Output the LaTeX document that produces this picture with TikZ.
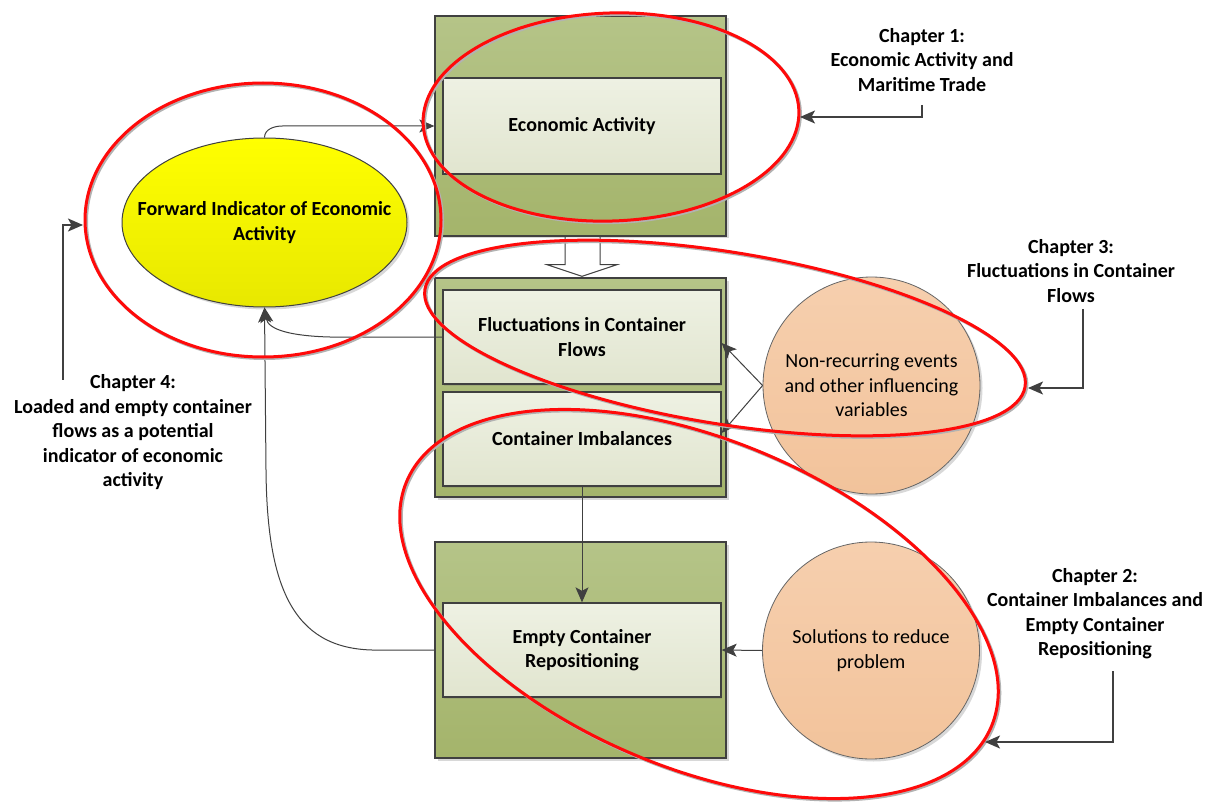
\documentclass[tikz,border=0pt]{standalone}
\usepackage{fontspec}
\setmainfont{Carlito}
\usetikzlibrary{arrows.meta,shadows,calc,shapes.geometric}

\definecolor{olivetop}{HTML}{B5C488}
\definecolor{olivebot}{HTML}{A4B46B}
\definecolor{paletop}{HTML}{EEF1E3}
\definecolor{palebot}{HTML}{E1E5CF}
\definecolor{peachtop}{HTML}{F6CFAE}
\definecolor{peachbot}{HTML}{F2C39B}
\definecolor{lemontop}{HTML}{FFFF00}
\definecolor{lemonbot}{HTML}{E8E800}
\definecolor{linegray}{HTML}{404040}
\definecolor{ringred}{HTML}{FF0A0A}

\tikzset{
  softshadow/.style={drop shadow={shadow xshift=2.5pt, shadow yshift=-2.5pt, opacity=.25, fill=black!60}},
  stage/.style={draw=linegray, line width=1.3pt, top color=olivetop, bottom color=olivebot,
    minimum width=291pt, inner sep=0pt, softshadow},
  panel/.style={draw=linegray, line width=1.3pt, top color=paletop, bottom color=palebot,
    minimum width=278pt, minimum height=94pt, inner sep=0pt, align=center,
    font=\fontsize{20}{24.5}\selectfont\bfseries,
    drop shadow={shadow xshift=1pt, shadow yshift=-1.5pt, opacity=.2, fill=black!60}},
  bubble/.style={circle, draw=linegray!80, line width=0.8pt, top color=peachtop, bottom color=peachbot,
    minimum size=217pt, inner sep=0pt, align=center, font=\fontsize{20}{24.5}\selectfont, softshadow},
  oval/.style={ellipse, draw=linegray, line width=1pt, top color=lemontop, bottom color=lemonbot,
    minimum width=285pt, minimum height=169pt, inner sep=0pt, softshadow},
  ovaltext/.style={align=center, inner sep=0pt, font=\fontsize{20}{24.5}\selectfont\bfseries},
  chaptext/.style={align=center, inner sep=0pt, font=\fontsize{20}{24.5}\selectfont\bfseries},
  hollow/.style={draw=linegray, line width=1pt, fill=white, line join=miter},
  arr/.style={draw=linegray, line width=1pt, -{Stealth[length=15pt, width=13pt, inset=3.5pt]}},
  chaparr/.style={draw=linegray, line width=1.4pt, -{Stealth[length=15pt, width=13pt, inset=3.5pt]}},
  ring/.style={draw=ringred, line width=3pt},
  ringshadow/.style={draw=black!30, line width=3pt},
}

% annotation ring: centre x, centre y, x radius, y radius, rotation
\newcommand\chapring[5]{%
  \draw[ringshadow, rotate around={#5:(#1+1.5,#2+1.5)}] (#1+1.5,#2+1.5) ellipse [x radius=#3pt, y radius=#4pt];
  \draw[ring, rotate around={#5:(#1,#2)}] (#1,#2) ellipse [x radius=#3pt, y radius=#4pt];}

\begin{document}
\begin{tikzpicture}[x=1pt, y=-1pt]
\useasboundingbox[fill=white] (0,0) rectangle (1218,805);

% stage blocks
\node[stage, minimum height=220pt] (s1) at (580.5,126) {};
\node[stage, minimum height=219pt] (s2) at (580.5,387.5) {};
\node[stage, minimum height=216pt] (s3) at (580.5,650) {};

\node[panel, minimum height=96pt] (ea) at (582,126) {Economic Activity};
\node[panel] (fl) at (582,337) {Fluctuations in Container\\Flows};
\node[panel] (ci) at (582,439) {Container Imbalances};
\node[panel] (ec) at (582,650) {Empty Container\\Repositioning};

% hollow block arrow between the first two stages
\draw[hollow] ($(s1.south)+(-15.5,0)$) -- ($(s1.south)+(-15.5,28)$) -- ($(s1.south)+(-33.5,28)$)
  -- ($(s2.north)+(1.5,-1)$) -- ($(s1.south)+(36.5,28)$) -- ($(s1.south)+(19.5,28)$)
  -- ($(s1.south)+(19.5,0)$) -- cycle;

% influencing factors
\node[bubble] (nr) at (871.5,385.5) {Non-recurring events\\and other influencing\\variables};
\node[bubble] (sr) at (871,650.5) {Solutions to reduce\\problem};

% forward indicator
\node[oval, label={[ovaltext]center:Forward Indicator of Economic\\Activity}] (fi) at (264.5,222.5) {};

% connectors
\draw[arr] (fi.north) to[out=90, in=180] ($(fi.north |- s1.west)+(18,0)$) -- (s1.west);
\draw[arr] (fl.west) -- (330,337) .. controls (292,336) and (268,330) .. (fi.south);
\draw[arr] (s3.west) -- (372,650) .. controls (292,648) and (267,585) .. (266,470) -- (fi.south);
\draw[arr] (nr.west) -- ($(fl.east)+(0,6)$);
\draw[arr] (nr.west) -- ($(ci.east)+(0,-6)$);
\draw[arr] (sr.west) -- (ec.east);
\draw[arr] (ci.south) -- (ec.north);

% chapter rings
\chapring{611}{117}{188}{104}{2}
\chapring{263}{220}{178}{137}{0}
\chapring{725}{338}{304}{86}{-9.2}
\chapring{699}{604}{317}{164}{-22.7}

\coordinate (r1e) at (800,117);
\coordinate (r3e) at (1028,388);
\coordinate (r2e) at (985,742);
\coordinate (r4w) at (83,225);

% chapter labels
\node[chaptext] (c1) at (922,60) {Chapter 1:\\Economic Activity and\\Maritime Trade};
\node[chaptext] (c3) at (1071,271) {Chapter 3:\\Fluctuations in Container\\Flows};
\node[chaptext] (c2) at (1095,613.5) {Chapter 2:\\Container Imbalances and\\Empty Container\\Repositioning};
\node[chaptext] (c4) at (133,432.5) {Chapter 4:\\Loaded and empty container\\flows as a potential\\indicator of economic\\activity};

\draw[chaparr] ($(c1.south)+(0,13)$) |- (r1e);
\draw[chaparr] ($(c3.south)+(12,6)$) |- (r3e);
\draw[chaparr] ($(c2.south)+(18,12)$) |- (r2e);
\draw[chaparr] ($(c4.north)+(-70,5)$) |- (r4w);
\end{tikzpicture}
\end{document}
